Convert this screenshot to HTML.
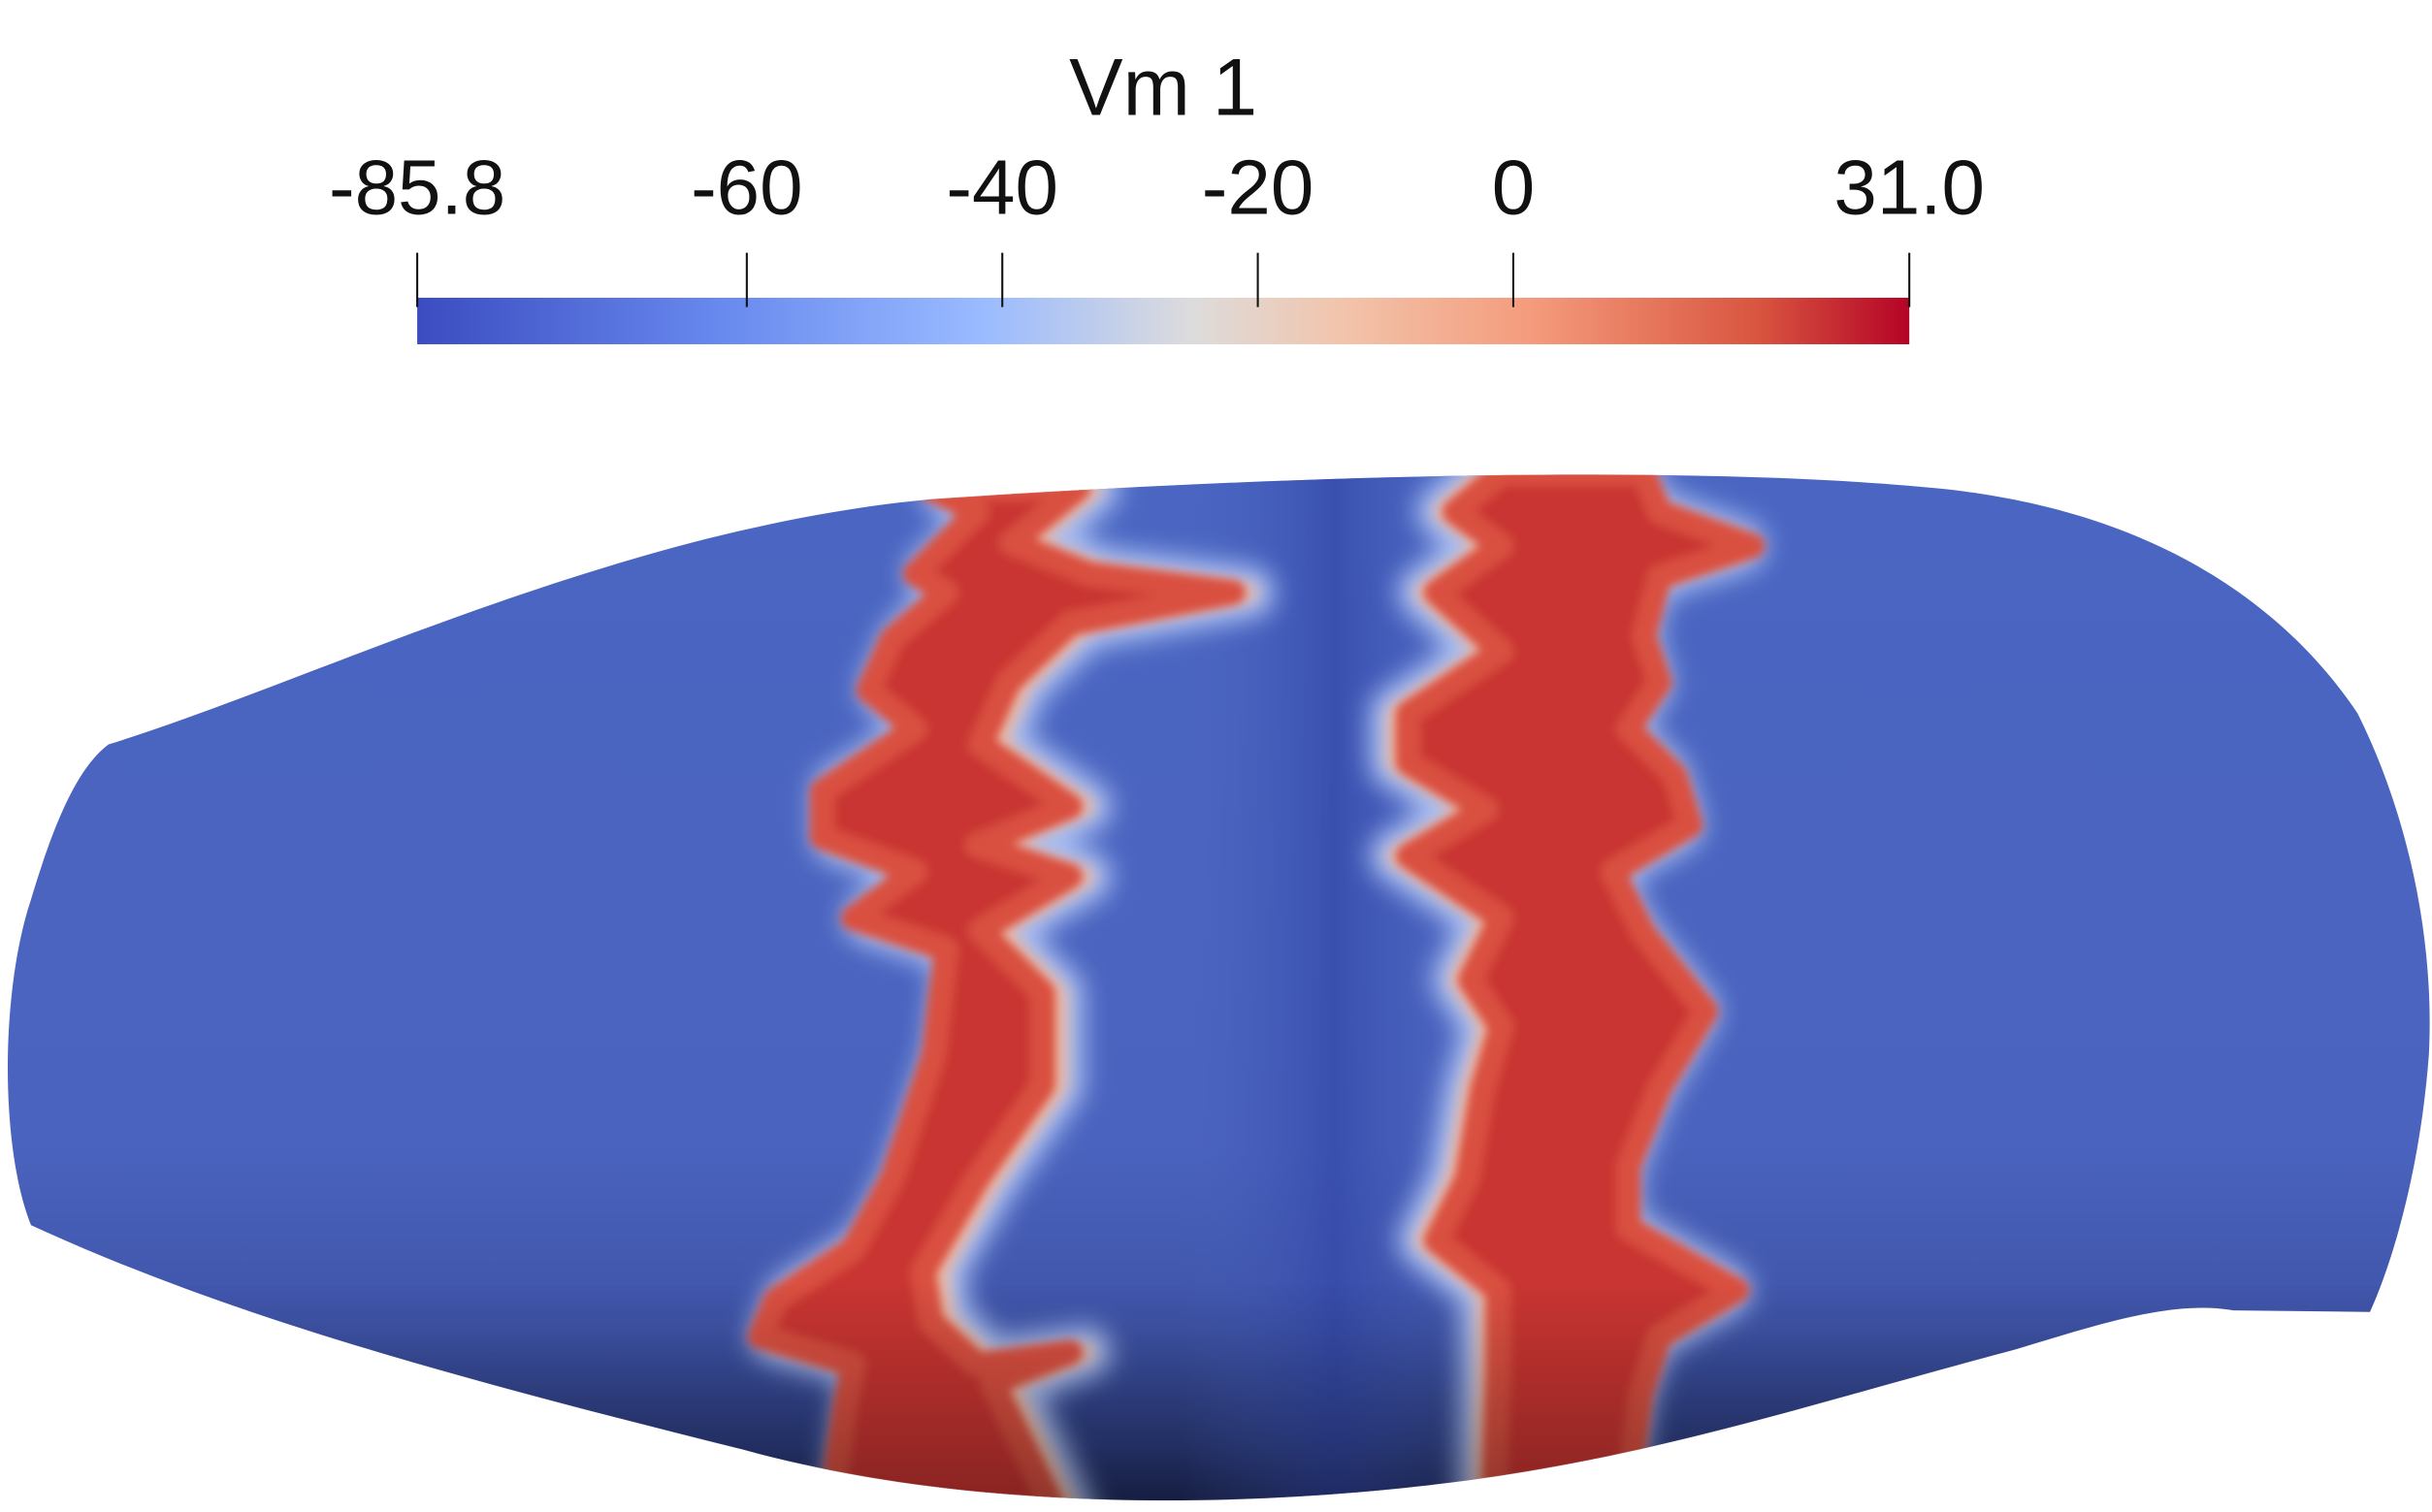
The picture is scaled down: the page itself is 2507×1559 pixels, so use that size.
<!DOCTYPE html>
<html><head><meta charset="utf-8"><style>
html,body{margin:0;padding:0;background:#fff;}
svg{display:block;}
text{font-family:"Liberation Sans","DejaVu Sans",sans-serif;fill:#111;}
</style></head><body>
<svg width="2507" height="1559" viewBox="0 0 1568 975" preserveAspectRatio="none" xmlns="http://www.w3.org/2000/svg">
<defs>
<linearGradient id="cmap" x1="0" x2="1" y1="0" y2="0">
<stop offset="0" stop-color="#3b4cc0"/>
<stop offset="0.2" stop-color="#6788ee"/>
<stop offset="0.38" stop-color="#9abbff"/>
<stop offset="0.52" stop-color="#dddcdc"/>
<stop offset="0.62" stop-color="#f2c4ab"/>
<stop offset="0.75" stop-color="#f49a7b"/>
<stop offset="0.9" stop-color="#d8543f"/>
<stop offset="1" stop-color="#b40426"/>
</linearGradient>
<linearGradient id="bodyg" x1="0" x2="0" y1="0" y2="1">
<stop offset="0" stop-color="#4a66c2"/>
<stop offset="0.65" stop-color="#4a63be"/>
<stop offset="0.82" stop-color="#3f54a8"/>
<stop offset="0.93" stop-color="#2e3e82"/>
<stop offset="1" stop-color="#1c2654"/>
</linearGradient>
<linearGradient id="midg" x1="0" x2="1" y1="0" y2="0">
<stop offset="0" stop-color="#4a63be" stop-opacity="0"/>
<stop offset="0.5" stop-color="#3347a8" stop-opacity="0.7"/>
<stop offset="1" stop-color="#4a63be" stop-opacity="0"/>
</linearGradient>
<linearGradient id="shade" x1="0" x2="0" y1="0" y2="1">
<stop offset="0.78" stop-color="#000" stop-opacity="0"/>
<stop offset="1" stop-color="#000" stop-opacity="0.35"/>
</linearGradient>
<clipPath id="bodyclip"><path id="bodyp" d="M70,480 C200,440 400,340 600,322 C850,305 1100,300 1250,315 C1400,330 1480,400 1520,460 C1550,520 1570,600 1566,680 C1560,760 1540,820 1528,846 L1440,845 C1400,838 1350,855 1300,870 C1150,910 1050,945 900,960 C750,975 600,968 480,935 C300,890 150,850 20,790 C0,740 0,640 20,580 C35,530 50,495 70,480 Z"/></clipPath>
<filter id="blur6"><feGaussianBlur stdDeviation="8"/></filter>
<filter id="blur4"><feGaussianBlur stdDeviation="5"/></filter>
<filter id="blur2"><feGaussianBlur stdDeviation="3"/></filter>
</defs>

<g>
<text x="750" y="74" font-size="52" text-anchor="middle">Vm 1</text>
<rect x="269" y="192" width="962" height="30" fill="url(#cmap)"/>
<g id="ticks"></g>
</g>

<g clip-path="url(#bodyclip)">
<rect x="0" y="290" width="1568" height="690" fill="url(#bodyg)"/>
<rect x="760" y="290" width="200" height="690" fill="url(#midg)"/>
<g filter="url(#blur6)">
<polygon id="h1" fill="#dcdde6" stroke="#a7bdf2" stroke-width="34" stroke-linejoin="round"/>
<polygon id="h2" fill="#dcdde6" stroke="#a7bdf2" stroke-width="34" stroke-linejoin="round"/>
</g>
<g filter="url(#blur4)">
<polygon id="m1" fill="#e27a62" stroke="#f0b9a0" stroke-width="12" stroke-linejoin="round"/>
<polygon id="m2" fill="#e27a62" stroke="#f0b9a0" stroke-width="12" stroke-linejoin="round"/>
</g>
<g filter="url(#blur2)">
<polygon id="r1" fill="#c93530" stroke="#d9503f" stroke-width="16" stroke-linejoin="round" transform="translate(-8,0)"/>
<polygon id="r2" fill="#c93530" stroke="#d9503f" stroke-width="16" stroke-linejoin="round" transform="translate(8,0)"/>
</g>
<rect x="0" y="290" width="1568" height="690" fill="url(#shade)"/>
</g>
</svg>
<script>
const tickValues=[-85.8,-60,-40,-20,0,31.0];
const tickLabels=["-85.8","-60","-40","-20","0","31.0"];
const vMin=-85.8,vMax=31.0;
const x0=269,x1=1231;
const sx=v=>x0+(v-vMin)/(vMax-vMin)*(x1-x0);
const NS="http://www.w3.org/2000/svg";
const tg=document.getElementById('ticks');
tickValues.forEach((v,i)=>{
  const l=document.createElementNS(NS,'line');
  l.setAttribute('x1',sx(v));l.setAttribute('x2',sx(v));
  l.setAttribute('y1',163);l.setAttribute('y2',198);
  l.setAttribute('stroke','#111');l.setAttribute('stroke-width','1.3');
  
  
  tg.appendChild(l);
  const t=document.createElementNS(NS,'text');
  t.setAttribute('x',sx(v));t.setAttribute('y',138);
  t.setAttribute('font-size','50');t.setAttribute('text-anchor','middle');
  t.textContent=tickLabels[i];
  
  
  tg.appendChild(t);
});
const band1=[[610,315],[640,330],[600,370],[620,382],[585,412],[570,445],[600,470],[540,510],[540,540],[600,562],[560,592],[620,612],[612,680],[585,760],[560,805],[510,838],[500,862],[560,880],[555,905],[545,975],
[690,975],[650,892],[700,872],[640,880],[610,852],[605,820],[640,760],[682,700],[682,640],[642,600],[700,565],[640,545],[700,520],[642,480],[660,440],[700,402],[805,382],[712,370],[662,350],[705,315]];
const band2=[[960,305],[930,330],[960,352],[918,382],[960,420],[900,460],[900,492],[950,522],[900,552],[960,592],[940,632],[960,662],[948,702],[938,760],[918,800],[958,832],[958,882],[955,975],
[1040,975],[1050,900],[1062,862],[1112,832],[1042,792],[1042,752],[1062,702],[1092,652],[1052,602],[1032,562],[1082,532],[1072,500],[1042,470],[1062,440],[1052,410],[1062,372],[1122,352],[1062,330],[1052,305]];
const pts=a=>a.map(p=>p.join(',')).join(' ');
['h1','m1','r1'].forEach(id=>document.getElementById(id).setAttribute('points',pts(band1)));
['h2','m2','r2'].forEach(id=>document.getElementById(id).setAttribute('points',pts(band2)));
document.getElementById('r1').setAttribute('transform','translate(-10,0) scale(1,1)');
</script>
</body></html>
